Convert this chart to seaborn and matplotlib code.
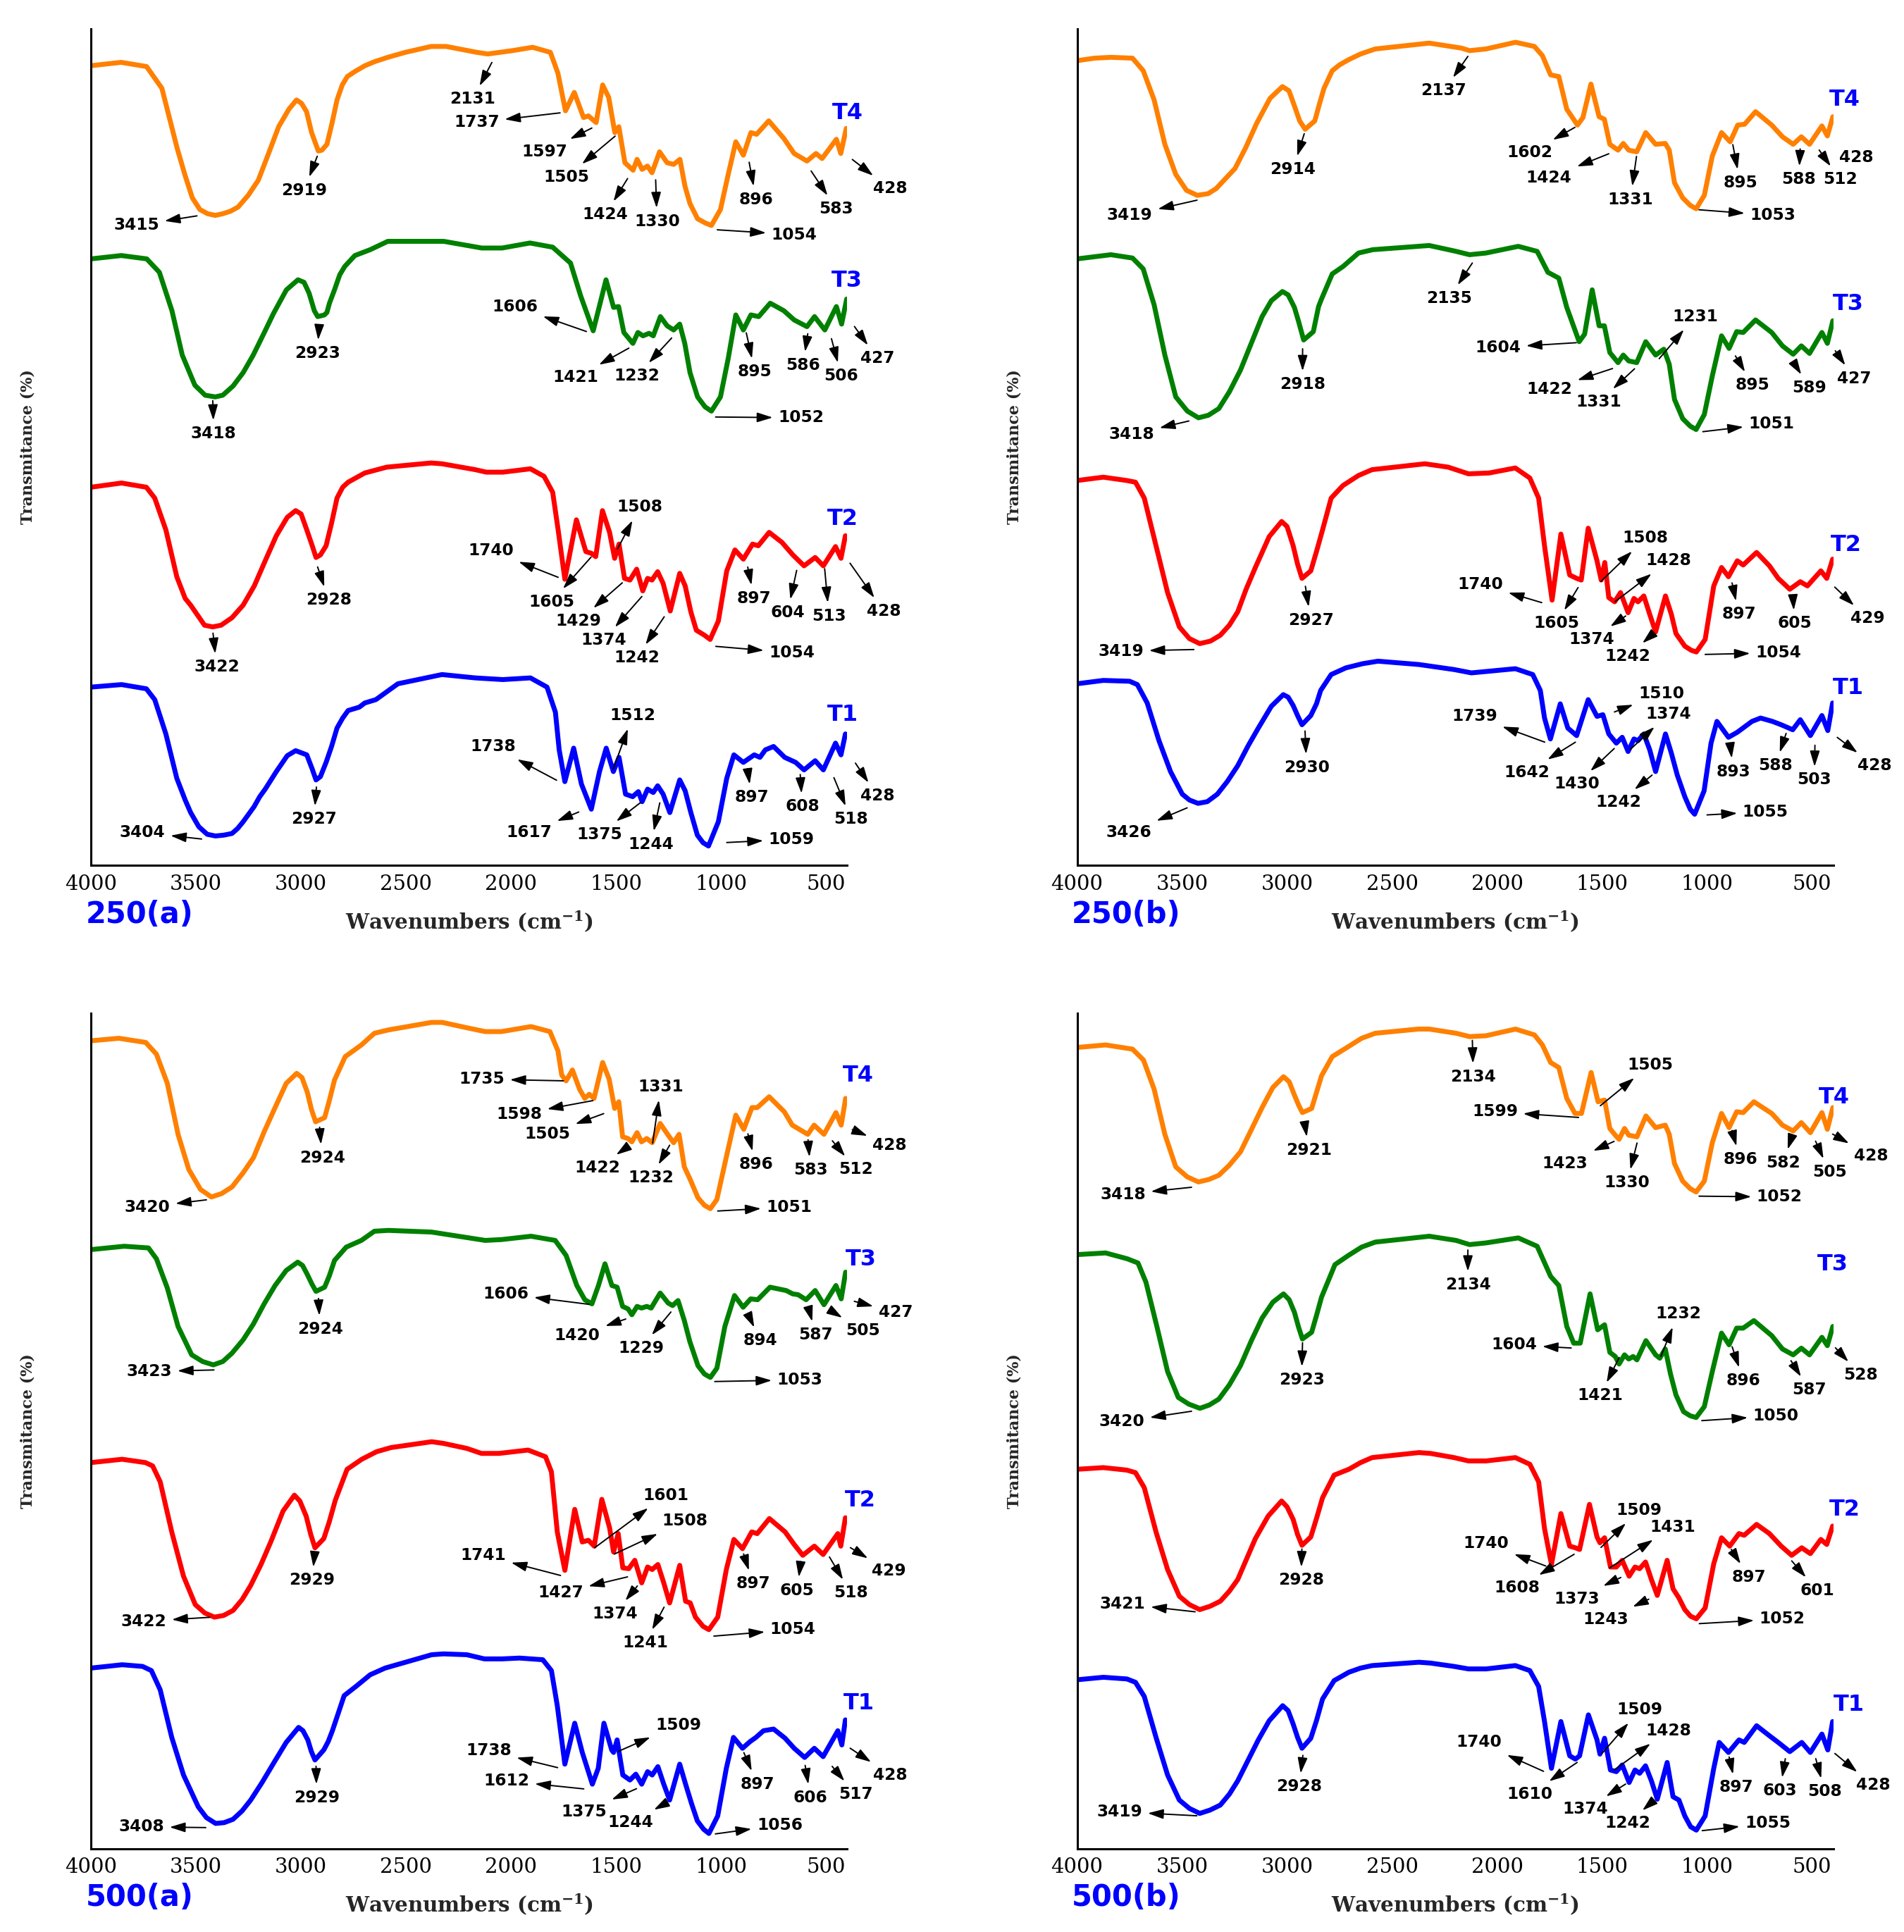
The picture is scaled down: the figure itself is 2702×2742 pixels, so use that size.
import numpy as np
import matplotlib
matplotlib.use("Agg")
import matplotlib.pyplot as plt
from matplotlib.ticker import MultipleLocator
import seaborn as sns

# ---------------------------------------------------------------------------
# FTIR spectra: (wavenumber cm-1, relative transmittance)
# transmittance is on a 0-100 stacked scale, curves are offset by sample
# ---------------------------------------------------------------------------

# ---- 250 (a) ----
A250_T4 = [(4000, 95.6), (3856, 96.0), (3735, 95.5), (3662, 92.9), (3590, 85.8), (3553, 82.6), (3517, 79.8),
           (3481, 78.4), (3444, 77.9), (3408, 77.7), (3372, 77.9), (3335, 78.2), (3299, 78.7), (3251, 80.1),
           (3203, 81.9), (3154, 85.1), (3106, 88.3), (3057, 90.4), (3021, 91.5), (2997, 91.1), (2973, 90.1),
           (2949, 87.6), (2917, 85.4), (2900, 85.5), (2876, 86.2), (2852, 88.7), (2828, 91.5), (2803, 93.3),
           (2779, 94.3), (2743, 94.9), (2695, 95.6), (2647, 96.1), (2586, 96.6), (2502, 97.2), (2380, 97.9),
           (2308, 97.9), (2163, 97.2), (2110, 97.0), (1993, 97.4), (1897, 97.8), (1812, 97.2), (1776, 94.7),
           (1740, 90.2), (1698, 92.4), (1654, 89.4), (1631, 89.6), (1594, 88.8), (1563, 93.3), (1534, 91.8),
           (1505, 87.6), (1486, 88.3), (1457, 84.0), (1418, 83.1), (1399, 84.4), (1375, 83.2), (1350, 83.6),
           (1328, 82.8), (1292, 85.3), (1256, 84.0), (1225, 83.8), (1195, 84.4), (1171, 81.2), (1147, 79.1),
           (1111, 77.3), (1075, 76.8), (1045, 76.5), (1002, 78.4), (965, 82.6), (929, 86.5), (893, 84.9),
           (857, 87.6), (830, 87.4), (772, 89.0), (700, 86.9), (651, 85.1), (590, 84.2), (547, 85.1),
           (518, 84.5), (450, 86.8), (429, 85.1), (403, 88.1)]
A250_T3 = [(4000, 72.5), (3855, 72.9), (3734, 72.5), (3674, 70.9), (3614, 66.3), (3565, 61.0), (3505, 57.4),
           (3456, 56.2), (3408, 56.0), (3372, 56.2), (3323, 57.3), (3275, 58.9), (3227, 61.0), (3178, 63.5),
           (3130, 66.0), (3069, 68.8), (3014, 70.0), (2985, 69.7), (2961, 68.4), (2936, 66.3), (2920, 65.6),
           (2888, 65.8), (2876, 66.1), (2864, 67.2), (2840, 68.8), (2815, 70.6), (2791, 71.6), (2743, 72.9),
           (2670, 73.6), (2586, 74.6), (2405, 74.6), (2320, 74.6), (2139, 73.8), (2042, 73.8), (1909, 74.4),
           (1801, 73.9), (1716, 72.0), (1668, 68.1), (1608, 63.9), (1547, 70.0), (1511, 66.7), (1487, 66.8),
           (1462, 63.7), (1419, 62.4), (1395, 63.7), (1371, 63.3), (1342, 63.6), (1322, 63.3), (1288, 65.6),
           (1256, 64.5), (1225, 64.0), (1196, 64.7), (1172, 62.4), (1147, 58.9), (1111, 56.0), (1075, 54.8),
           (1045, 54.3), (1002, 56.0), (965, 60.6), (929, 65.8), (893, 64.0), (857, 65.8), (820, 65.6),
           (765, 67.2), (700, 66.3), (651, 65.2), (590, 64.4), (554, 65.6), (505, 64.0), (450, 66.8),
           (425, 64.7), (401, 67.7)]
A250_T2 = [(4000, 45.2), (3854, 45.7), (3736, 45.2), (3696, 43.9), (3643, 40.1), (3591, 34.5), (3551, 31.9),
           (3525, 31.1), (3459, 28.7), (3420, 28.5), (3380, 28.7), (3328, 29.6), (3275, 31.1), (3222, 33.4),
           (3170, 36.4), (3117, 39.4), (3065, 41.6), (3025, 42.4), (2999, 42.0), (2972, 40.1), (2946, 38.2),
           (2928, 36.8), (2907, 37.1), (2880, 38.2), (2854, 40.9), (2828, 43.9), (2801, 45.2), (2775, 45.8),
           (2696, 46.9), (2591, 47.6), (2380, 48.1), (2328, 48.0), (2170, 47.3), (2117, 47.0), (2038, 47.0),
           (1907, 47.4), (1842, 46.5), (1801, 44.6), (1775, 40.1), (1743, 34.2), (1688, 41.3), (1643, 37.5),
           (1617, 37.3), (1596, 36.9), (1564, 42.4), (1530, 39.8), (1506, 36.7), (1485, 38.4), (1459, 34.3),
           (1433, 34.1), (1401, 35.4), (1372, 32.8), (1349, 34.3), (1328, 34.1), (1301, 35.1), (1275, 33.7),
           (1241, 30.4), (1196, 34.9), (1170, 33.4), (1143, 30.3), (1117, 28.1), (1078, 27.5), (1051, 27.0),
           (1012, 29.2), (972, 35.2), (933, 37.7), (893, 36.6), (849, 38.4), (822, 38.2), (770, 39.8),
           (709, 38.6), (657, 37.1), (604, 35.8), (551, 36.8), (512, 35.8), (454, 38.1), (428, 36.7), (407, 39.4)]
A250_T1 = [(4000, 21.3), (3854, 21.6), (3736, 21.1), (3696, 19.8), (3643, 15.7), (3591, 10.4), (3551, 7.8),
           (3525, 6.3), (3486, 4.6), (3446, 3.7), (3407, 3.5), (3367, 3.6), (3328, 3.8), (3301, 4.4),
           (3275, 5.2), (3223, 7.0), (3196, 8.2), (3170, 9.1), (3117, 11.2), (3065, 13.1), (3025, 13.7),
           (2972, 13.2), (2946, 11.5), (2928, 10.2), (2907, 10.6), (2880, 12.3), (2854, 14.2), (2828, 16.4),
           (2801, 17.6), (2775, 18.5), (2722, 18.9), (2696, 19.4), (2643, 19.8), (2538, 21.7), (2328, 22.8),
           (2170, 22.4), (2038, 22.2), (1907, 22.4), (1828, 21.3), (1788, 18.3), (1770, 13.8), (1743, 10.0),
           (1701, 14.0), (1664, 9.7), (1617, 6.7), (1578, 11.2), (1546, 14.0), (1512, 11.2), (1485, 12.9),
           (1454, 8.5), (1420, 8.2), (1393, 8.8), (1375, 7.6), (1349, 9.1), (1322, 8.7), (1301, 9.5),
           (1275, 8.5), (1243, 6.3), (1196, 10.2), (1170, 8.9), (1143, 6.3), (1112, 3.6), (1085, 2.7),
           (1059, 2.3), (1012, 5.2), (972, 10.4), (938, 13.2), (893, 12.3), (841, 13.2), (814, 12.9),
           (788, 13.8), (749, 14.2), (696, 12.9), (644, 12.3), (604, 11.4), (551, 12.5), (512, 11.4),
           (454, 14.6), (428, 13.2), (407, 15.7)]

# ---- 250 (b) ----
B250_T4 = [(4000, 96.2), (3917, 96.5), (3839, 96.6), (3736, 96.5), (3685, 95.0), (3633, 91.5), (3582, 86.2),
           (3530, 82.6), (3479, 80.7), (3428, 80.1), (3376, 80.3), (3338, 80.9), (3248, 83.3), (3197, 85.8),
           (3145, 88.7), (3081, 91.7), (3022, 93.1), (2991, 92.6), (2965, 90.8), (2940, 89.0), (2914, 88.0),
           (2868, 89.0), (2845, 91.1), (2824, 92.9), (2785, 95.0), (2750, 95.7), (2708, 96.3), (2650, 97.0),
           (2580, 97.6), (2323, 98.3), (2169, 97.7), (2131, 97.4), (2053, 97.6), (1912, 98.4), (1822, 97.9),
           (1784, 96.8), (1745, 94.5), (1706, 94.3), (1668, 90.4), (1617, 88.5), (1591, 89.4), (1553, 93.4),
           (1514, 89.5), (1489, 89.2), (1463, 86.2), (1424, 85.5), (1399, 86.3), (1373, 85.5), (1335, 85.3),
           (1292, 87.6), (1245, 86.2), (1199, 86.3), (1180, 85.5), (1155, 81.6), (1116, 79.8), (1080, 78.9),
           (1052, 78.5), (1013, 80.1), (975, 84.8), (931, 87.6), (890, 86.5), (854, 88.5), (821, 88.6),
           (769, 90.1), (692, 88.5), (641, 87.1), (590, 86.2), (551, 87.1), (512, 86.2), (453, 88.4),
           (427, 87.2), (401, 89.5)]
B250_T3 = [(4000, 72.5), (3839, 73.0), (3736, 72.6), (3685, 71.3), (3633, 67.0), (3582, 61.0), (3530, 56.0),
           (3475, 54.3), (3422, 53.5), (3375, 53.8), (3325, 54.6), (3275, 56.6), (3222, 59.2), (3119, 65.6),
           (3075, 67.5), (3022, 68.6), (2995, 68.2), (2965, 66.7), (2945, 65.0), (2921, 62.8), (2875, 63.8),
           (2850, 66.8), (2836, 67.7), (2785, 70.7), (2733, 71.6), (2660, 73.2), (2592, 73.6), (2323, 74.1),
           (2195, 73.4), (2131, 73.0), (2053, 73.2), (1899, 74.0), (1809, 73.4), (1758, 70.9), (1706, 70.2),
           (1668, 66.7), (1609, 62.6), (1583, 63.5), (1547, 68.8), (1514, 64.5), (1489, 64.5), (1463, 61.3),
           (1424, 60.1), (1399, 61.0), (1373, 60.3), (1335, 60.1), (1292, 62.6), (1245, 61.0), (1206, 61.7),
           (1180, 59.9), (1155, 55.7), (1116, 53.4), (1080, 52.5), (1052, 52.1), (1013, 53.9), (975, 58.5),
           (931, 63.3), (895, 61.8), (859, 63.8), (828, 63.7), (769, 65.2), (692, 63.7), (641, 62.1),
           (590, 61.1), (551, 62.1), (512, 61.2), (453, 63.7), (427, 62.4), (401, 65.1)]
B250_T2 = [(4000, 46.0), (3875, 46.4), (3763, 46.0), (3722, 45.8), (3680, 43.9), (3624, 38.2), (3569, 32.6),
           (3513, 28.5), (3465, 27.1), (3416, 26.5), (3365, 26.8), (3318, 27.5), (3275, 28.7), (3235, 30.3),
           (3195, 33.0), (3151, 35.6), (3085, 39.3), (3026, 41.1), (3000, 40.5), (2971, 38.2), (2950, 36.0),
           (2929, 34.3), (2887, 35.2), (2860, 37.5), (2831, 40.1), (2790, 43.9), (2734, 45.4), (2660, 46.6),
           (2595, 47.3), (2344, 48.0), (2233, 47.6), (2136, 46.8), (2038, 46.9), (1913, 47.5), (1844, 46.3),
           (1802, 43.9), (1774, 38.2), (1738, 31.7), (1696, 39.6), (1654, 34.7), (1621, 34.3), (1599, 34.1),
           (1566, 40.3), (1524, 36.4), (1504, 34.1), (1487, 36.2), (1468, 32.0), (1440, 31.5), (1412, 32.6),
           (1376, 30.2), (1348, 31.9), (1329, 31.5), (1301, 32.2), (1273, 30.0), (1245, 27.9), (1198, 32.2),
           (1170, 30.0), (1148, 27.7), (1106, 26.2), (1075, 25.7), (1051, 25.5), (1009, 27.0), (968, 33.4),
           (931, 35.6), (898, 34.5), (856, 36.4), (828, 35.9), (764, 37.4), (703, 35.8), (661, 34.3),
           (606, 33.0), (556, 33.9), (522, 33.4), (458, 35.2), (430, 34.3), (402, 36.6)]
B250_T1 = [(4000, 21.7), (3875, 22.1), (3750, 22.0), (3713, 21.6), (3666, 19.4), (3610, 14.9), (3555, 11.2),
           (3499, 8.5), (3465, 7.8), (3424, 7.4), (3380, 7.6), (3332, 8.5), (3285, 10.0), (3235, 11.9),
           (3185, 14.3), (3137, 16.4), (3075, 19.0), (3018, 20.4), (2995, 20.1), (2971, 19.1), (2950, 17.9),
           (2929, 16.8), (2887, 17.9), (2860, 19.3), (2840, 20.9), (2790, 22.8), (2720, 23.6), (2640, 24.1),
           (2567, 24.4), (2372, 24.0), (2205, 23.4), (2122, 23.0), (2038, 23.2), (1913, 23.5), (1830, 22.8),
           (1794, 20.9), (1774, 17.6), (1746, 15.1), (1699, 19.3), (1663, 16.4), (1621, 15.5), (1566, 19.8),
           (1524, 17.8), (1496, 18.0), (1468, 15.7), (1432, 14.6), (1404, 15.3), (1376, 13.6), (1348, 15.1),
           (1329, 14.9), (1301, 15.7), (1273, 13.8), (1245, 11.2), (1198, 15.7), (1170, 13.4), (1142, 10.8),
           (1106, 8.2), (1080, 6.7), (1059, 6.1), (1014, 8.9), (981, 14.6), (953, 17.2), (898, 15.3),
           (856, 15.9), (786, 17.2), (745, 17.6), (689, 17.2), (647, 16.8), (592, 16.2), (556, 17.4),
           (508, 15.5), (453, 17.9), (425, 16.1), (402, 19.4)]

# ---- 500 (a) ----
A500_T4 = [(4000, 96.7), (3867, 97.0), (3739, 96.5), (3688, 95.1), (3636, 91.6), (3585, 85.5), (3534, 81.3),
           (3478, 78.9), (3426, 78.0), (3378, 78.4), (3328, 79.2), (3275, 80.9), (3226, 82.7), (3175, 85.8),
           (3123, 88.7), (3070, 91.6), (3020, 92.8), (2995, 92.3), (2969, 90.5), (2950, 88.5), (2930, 87.0),
           (2887, 87.5), (2865, 89.5), (2840, 92.0), (2789, 94.8), (2712, 96.2), (2650, 97.6), (2583, 98.0),
           (2378, 98.9), (2327, 98.9), (2199, 98.2), (2122, 97.8), (2045, 97.8), (1904, 98.4), (1814, 97.8),
           (1776, 95.5), (1758, 92.6), (1737, 91.9), (1707, 93.2), (1673, 90.9), (1648, 89.8), (1627, 90.3),
           (1604, 89.8), (1563, 94.1), (1532, 92.1), (1506, 88.6), (1486, 89.4), (1468, 85.2), (1442, 85.0),
           (1424, 84.6), (1399, 85.7), (1378, 84.6), (1353, 85.0), (1327, 84.5), (1289, 86.8), (1251, 85.4),
           (1225, 84.5), (1199, 85.5), (1174, 81.6), (1148, 80.2), (1109, 77.9), (1078, 77.0), (1050, 76.6),
           (1019, 77.7), (981, 82.0), (929, 87.8), (891, 86.1), (852, 88.7), (827, 88.7), (770, 90.0),
           (698, 88.2), (660, 86.6), (586, 85.5), (556, 86.6), (509, 85.5), (452, 88.1), (427, 86.6), (406, 89.8)]
A500_T3 = [(4000, 71.7), (3842, 72.1), (3726, 71.9), (3688, 70.6), (3636, 67.1), (3585, 62.5), (3520, 59.1),
           (3468, 58.3), (3417, 57.9), (3372, 58.3), (3328, 59.3), (3275, 60.9), (3226, 62.8), (3175, 65.2),
           (3123, 67.4), (3070, 69.2), (3015, 70.2), (2992, 69.8), (2969, 68.7), (2948, 67.6), (2928, 66.7),
           (2887, 67.2), (2864, 68.6), (2840, 70.4), (2784, 72.0), (2712, 72.8), (2650, 73.9), (2583, 74.0),
           (2378, 73.8), (2301, 73.5), (2122, 72.8), (2045, 72.9), (1904, 73.3), (1789, 72.8), (1737, 71.0),
           (1686, 67.4), (1648, 65.7), (1614, 65.2), (1583, 67.4), (1552, 70.0), (1519, 67.4), (1494, 67.2),
           (1468, 64.9), (1442, 64.6), (1424, 63.9), (1399, 64.9), (1378, 64.7), (1353, 64.9), (1332, 64.7),
           (1289, 66.5), (1251, 65.3), (1230, 65.0), (1204, 65.6), (1174, 63.2), (1148, 60.7), (1109, 57.8),
           (1078, 56.8), (1050, 56.4), (1019, 57.5), (981, 62.5), (935, 66.2), (894, 64.8), (858, 65.8),
           (825, 65.7), (766, 67.2), (689, 66.8), (658, 66.4), (632, 66.3), (594, 65.7), (551, 66.8),
           (509, 65.1), (452, 67.4), (427, 65.8), (406, 69.0)]
A500_T2 = [(4000, 46.2), (3851, 46.6), (3740, 46.2), (3706, 45.8), (3670, 43.9), (3615, 37.9), (3559, 32.6),
           (3503, 29.2), (3458, 28.2), (3412, 27.7), (3368, 27.9), (3323, 28.5), (3280, 29.8), (3239, 31.5),
           (3190, 34.0), (3142, 36.8), (3085, 40.4), (3031, 42.3), (3005, 41.6), (2975, 39.8), (2953, 37.6),
           (2933, 36.0), (2891, 37.1), (2865, 39.1), (2836, 41.7), (2780, 45.4), (2710, 46.6), (2640, 47.5),
           (2571, 48.0), (2377, 48.7), (2321, 48.5), (2210, 47.9), (2140, 47.3), (2057, 47.3), (1918, 47.7),
           (1835, 46.9), (1807, 45.1), (1779, 37.9), (1743, 33.3), (1696, 40.6), (1660, 36.7), (1631, 36.9),
           (1603, 36.2), (1567, 41.8), (1530, 38.4), (1511, 35.5), (1489, 37.7), (1467, 33.6), (1439, 33.5),
           (1410, 34.5), (1377, 31.8), (1349, 33.7), (1327, 33.4), (1300, 34.0), (1272, 31.8), (1244, 29.4),
           (1196, 33.9), (1168, 29.6), (1146, 29.4), (1121, 27.7), (1085, 26.6), (1057, 26.2), (1015, 27.7),
           (974, 33.4), (938, 37.0), (897, 35.9), (853, 37.9), (827, 37.7), (769, 39.5), (694, 37.9),
           (651, 36.4), (610, 35.1), (555, 36.2), (513, 35.2), (443, 37.7), (429, 36.2), (407, 39.6)]
A500_T1 = [(4000, 21.6), (3851, 22.0), (3754, 21.8), (3712, 21.3), (3670, 19.0), (3615, 13.3), (3559, 8.8),
           (3489, 5.0), (3450, 3.7), (3406, 3.0), (3365, 3.1), (3323, 3.5), (3280, 4.5), (3239, 5.8),
           (3185, 7.9), (3128, 10.3), (3070, 12.7), (3011, 14.5), (2990, 14.1), (2967, 13.0), (2950, 11.6),
           (2933, 10.6), (2891, 11.8), (2870, 12.8), (2850, 14.1), (2794, 18.3), (2738, 19.4), (2670, 20.8),
           (2599, 21.6), (2377, 23.2), (2321, 23.3), (2210, 23.2), (2126, 22.7), (2042, 22.7), (1959, 22.8),
           (1848, 22.6), (1807, 21.3), (1779, 17.1), (1743, 10.1), (1696, 15.0), (1660, 11.5), (1612, 7.7),
           (1584, 9.6), (1557, 15.0), (1520, 11.8), (1511, 11.5), (1494, 13.0), (1467, 8.8), (1433, 8.2),
           (1405, 8.9), (1377, 7.7), (1349, 9.2), (1327, 8.8), (1300, 9.8), (1272, 7.7), (1244, 5.8),
           (1196, 10.1), (1168, 7.7), (1140, 5.4), (1112, 3.3), (1082, 2.3), (1057, 1.8), (1015, 3.9),
           (974, 9.6), (940, 13.3), (897, 12.0), (861, 12.8), (833, 13.3), (797, 14.1), (749, 14.3),
           (694, 13.2), (651, 12.0), (601, 10.9), (555, 12.0), (513, 11.0), (443, 14.1), (424, 12.4), (407, 15.4)]

# ---- 500 (b) ----
B500_T4 = [(4000, 95.9), (3864, 96.2), (3736, 95.7), (3684, 94.4), (3633, 90.9), (3582, 85.5), (3530, 81.6),
           (3475, 80.4), (3422, 79.8), (3372, 80.1), (3325, 80.6), (3275, 81.8), (3222, 83.4), (3175, 85.8),
           (3119, 88.7), (3068, 91.1), (3017, 92.4), (2990, 91.8), (2965, 90.2), (2945, 89.0), (2927, 88.1),
           (2883, 88.6), (2860, 90.5), (2836, 92.5), (2785, 94.8), (2708, 96.0), (2645, 97.0), (2580, 97.6),
           (2375, 98.1), (2323, 98.1), (2195, 97.6), (2131, 97.2), (2053, 97.3), (1912, 98.1), (1822, 97.4),
           (1784, 96.2), (1745, 94.1), (1706, 93.5), (1668, 89.8), (1629, 88.0), (1598, 88.0), (1552, 92.9),
           (1519, 89.4), (1488, 89.6), (1463, 86.2), (1437, 85.4), (1419, 84.9), (1393, 86.2), (1373, 85.4),
           (1334, 85.2), (1291, 87.7), (1245, 86.3), (1199, 86.6), (1180, 85.5), (1155, 82.0), (1116, 79.9),
           (1080, 79.0), (1052, 78.6), (1013, 79.9), (975, 84.5), (931, 88.0), (895, 86.3), (859, 88.2),
           (828, 88.1), (777, 89.4), (692, 88.0), (641, 86.6), (590, 85.9), (551, 86.9), (508, 85.7),
           (453, 88.1), (427, 86.1), (401, 88.7)]
B500_T3 = [(4000, 71.1), (3864, 71.3), (3761, 70.6), (3710, 70.1), (3672, 67.8), (3620, 62.5), (3569, 57.1),
           (3518, 54.0), (3468, 53.2), (3415, 52.7), (3370, 53.1), (3325, 53.8), (3275, 55.5), (3222, 57.8),
           (3170, 60.8), (3119, 63.5), (3068, 65.4), (3017, 66.4), (2990, 65.7), (2965, 64.2), (2945, 62.4),
           (2927, 61.0), (2883, 61.8), (2860, 63.8), (2836, 66.0), (2772, 69.9), (2708, 71.0), (2645, 72.0),
           (2580, 72.6), (2323, 73.3), (2195, 72.8), (2131, 72.3), (2053, 72.5), (1899, 73.1), (1809, 72.1),
           (1745, 68.5), (1706, 67.4), (1668, 62.5), (1635, 60.5), (1604, 60.5), (1557, 66.4), (1521, 62.1),
           (1488, 62.7), (1463, 59.4), (1437, 58.9), (1419, 58.0), (1393, 59.1), (1373, 58.6), (1352, 58.9),
           (1334, 58.5), (1291, 60.8), (1245, 59.1), (1225, 58.7), (1199, 59.8), (1174, 56.8), (1148, 54.3),
           (1112, 52.3), (1080, 51.8), (1052, 51.6), (1013, 52.9), (975, 57.1), (931, 61.7), (895, 60.3),
           (859, 62.3), (828, 62.3), (777, 63.2), (692, 61.4), (641, 59.8), (590, 59.1), (551, 59.9),
           (512, 59.1), (453, 61.2), (427, 60.2), (401, 62.5)]
B500_T2 = [(4000, 45.4), (3875, 45.6), (3763, 45.3), (3722, 45.0), (3680, 43.2), (3624, 37.9), (3569, 33.4),
           (3513, 30.2), (3465, 29.2), (3416, 28.6), (3367, 29.0), (3318, 29.6), (3275, 30.8), (3235, 32.2),
           (3151, 37.1), (3090, 39.8), (3026, 41.6), (3000, 40.9), (2971, 39.4), (2950, 37.6), (2929, 36.3),
           (2887, 37.3), (2860, 39.5), (2831, 42.0), (2776, 44.7), (2706, 45.4), (2650, 46.2), (2595, 46.8),
           (2372, 47.4), (2317, 47.3), (2205, 46.8), (2136, 46.4), (2052, 46.4), (1913, 46.8), (1844, 46.0),
           (1802, 43.9), (1774, 38.3), (1741, 34.0), (1696, 40.1), (1654, 36.2), (1627, 36.0), (1607, 35.8),
           (1560, 41.2), (1524, 37.3), (1510, 36.6), (1488, 37.2), (1460, 33.7), (1432, 33.7), (1404, 34.5),
           (1371, 32.6), (1343, 33.7), (1321, 33.5), (1293, 34.3), (1265, 32.2), (1237, 30.3), (1190, 34.5),
           (1162, 31.1), (1134, 30.0), (1106, 28.6), (1078, 27.8), (1051, 27.5), (1009, 28.8), (968, 34.1),
           (931, 37.2), (892, 36.2), (848, 37.7), (823, 37.5), (764, 38.8), (703, 37.7), (647, 36.2),
           (597, 35.1), (549, 36.0), (508, 35.3), (458, 37.0), (430, 36.4), (402, 38.6)]
B500_T1 = [(4000, 20.2), (3875, 20.5), (3763, 20.3), (3722, 19.9), (3680, 18.2), (3624, 13.3), (3569, 8.8),
           (3513, 5.8), (3465, 4.8), (3416, 4.2), (3367, 4.6), (3318, 5.2), (3275, 6.5), (3235, 8.1),
           (3137, 13.0), (3085, 15.3), (3021, 17.1), (2995, 16.5), (2971, 14.9), (2950, 13.3), (2929, 12.0),
           (2887, 13.2), (2860, 15.3), (2831, 17.9), (2776, 20.1), (2706, 21.1), (2650, 21.6), (2595, 21.9),
           (2372, 22.3), (2317, 22.2), (2205, 21.8), (2136, 21.5), (2052, 21.5), (1913, 21.9), (1844, 21.3),
           (1802, 19.4), (1774, 15.2), (1741, 9.6), (1696, 15.2), (1654, 11.1), (1627, 10.7), (1607, 11.1),
           (1565, 16.0), (1524, 13.0), (1510, 11.3), (1488, 13.2), (1460, 9.4), (1432, 9.2), (1404, 10.0),
           (1371, 7.9), (1343, 9.4), (1321, 9.0), (1293, 9.9), (1265, 8.1), (1237, 5.9), (1190, 10.3),
           (1162, 6.2), (1134, 5.8), (1106, 3.9), (1078, 2.6), (1051, 2.2), (1009, 3.9), (968, 9.6),
           (942, 12.7), (898, 11.5), (848, 13.0), (823, 12.7), (764, 14.7), (703, 13.5), (661, 12.7),
           (606, 11.6), (549, 12.7), (508, 11.5), (453, 13.7), (425, 11.8), (402, 15.2)]

# ---------------------------------------------------------------------------
# peak labels: (label, arrow start wn, arrow start T, label wn, label T)
# ---------------------------------------------------------------------------
PK_A250_T4 = [("3415", 3481, 77.7, 3783, 76.5), ("2919", 2917, 85.1, 2985, 80.7), ("2131", 2084, 96.3, 2182, 91.6),
              ("1737", 1752, 90.0, 2163, 88.8), ("1597", 1602, 88.3, 1841, 85.3), ("1505", 1493, 87.4, 1735, 82.3),
              ("1424", 1437, 82.4, 1550, 77.8), ("1330", 1311, 82.3, 1304, 77.0), ("1054", 1031, 76.0, 651, 75.4),
              ("896", 868, 84.4, 832, 79.6), ("583", 578, 83.3, 450, 78.5), ("428", 385, 84.6, 195, 80.9)]
PK_A250_T3 = [("3418", 3420, 55.9, 3415, 51.6), ("2923", 2912, 64.9, 2922, 61.2), ("1606", 1627, 63.7, 1981, 66.8),
              ("1421", 1426, 62.0, 1691, 58.3), ("1232", 1225, 63.3, 1401, 58.5), ("1052", 1039, 53.6, 619, 53.5),
              ("895", 882, 64.0, 838, 59.0), ("586", 584, 63.9, 609, 59.8), ("506", 477, 63.3, 426, 58.5),
              ("427", 372, 64.7, 255, 60.6)]
PK_A250_T2 = [("3422", 3420, 28.1, 3401, 23.7), ("2928", 2925, 36.0, 2867, 31.7), ("1740", 1762, 34.3, 2096, 37.6),
              ("1605", 1609, 37.1, 1807, 31.5), ("1508", 1499, 37.5, 1388, 42.8), ("1429", 1459, 34.0, 1678, 29.2),
              ("1374", 1367, 32.4, 1559, 26.9), ("1242", 1262, 30.0, 1401, 24.8), ("1054", 1038, 26.2, 662, 25.4),
              ("897", 875, 36.0, 841, 31.9), ("604", 636, 35.6, 683, 30.2), ("513", 507, 35.8, 485, 29.8),
              ("428", 393, 36.4, 225, 30.4)]
PK_A250_T1 = [("3404", 3459, 3.1, 3754, 3.9), ("2927", 2925, 9.7, 2938, 5.5), ("1738", 1770, 10.0, 2085, 14.2),
              ("1617", 1664, 6.5, 1914, 3.9), ("1512", 1517, 11.2, 1420, 17.9), ("1375", 1372, 7.7, 1578, 3.7),
              ("1244", 1288, 7.8, 1333, 2.5), ("1059", 986, 2.7, 664, 3.1), ("897", 875, 11.9, 854, 8.1),
              ("608", 623, 11.2, 612, 7.0), ("518", 467, 10.8, 380, 5.5), ("428", 367, 12.5, 255, 8.3)]

PK_B250_T4 = [("3419", 3415, 79.6, 3749, 77.7), ("2914", 2914, 87.8, 2972, 83.2), ("2137", 2131, 97.0, 2254, 92.6),
              ("1602", 1617, 88.4, 1843, 85.2), ("1424", 1455, 85.2, 1753, 82.2), ("1331", 1334, 85.1, 1365, 79.6),
              ("1053", 1052, 78.4, 687, 77.7), ("895", 880, 86.5, 842, 81.6), ("588", 556, 86.0, 563, 82.0),
              ("512", 474, 85.8, 367, 82.0), ("428", None, None, 289, 84.6)]
PK_B250_T3 = [("3418", 3454, 53.2, 3741, 51.5), ("2918", 2926, 62.1, 2926, 57.5), ("2135", 2110, 72.3, 2229, 67.8),
              ("1604", 1609, 62.5, 1995, 61.9), ("1422", 1437, 59.5, 1751, 56.9), ("1331", 1335, 59.6, 1515, 55.4),
              ("1231", 1237, 60.3, 1057, 65.6), ("1051", 1034, 51.8, 693, 52.8), ("895", 872, 61.2, 782, 57.4),
              ("589", 597, 60.5, 512, 57.1), ("427", 397, 61.8, 299, 58.2)]
PK_B250_T2 = [("3419", 3430, 25.8, 3791, 25.6), ("2927", 2915, 33.7, 2887, 29.3), ("1740", 1774, 31.3, 2080, 33.6),
              ("1605", 1607, 33.5, 1718, 28.9), ("1508", 1515, 33.7, 1293, 39.1), ("1428", 1449, 31.3, 1184, 36.4),
              ("1374", 1376, 30.0, 1551, 27.0), ("1242", 1251, 27.8, 1379, 25.0), ("1054", 1023, 25.2, 661, 25.4),
              ("897", 884, 34.1, 848, 30.0), ("605", 592, 32.6, 583, 28.9), ("429", 402, 33.5, 235, 29.5)]
PK_B250_T1 = [("3426", 3463, 7.0, 3755, 3.9), ("2930", 2915, 16.4, 2907, 11.7), ("1739", 1760, 14.6, 2108, 17.8),
              ("1642", 1615, 14.9, 1858, 11.1), ("1510", 1454, 18.2, 1218, 20.5), ("1374", 1376, 13.6, 1184, 18.1),
              ("1430", 1432, 14.2, 1621, 9.7), ("1242", 1251, 11.0, 1421, 7.5), ("1055", 1014, 6.0, 722, 6.4),
              ("893", 892, 14.9, 875, 11.2), ("588", 619, 16.1, 675, 11.9), ("503", 486, 14.7, 489, 10.2),
              ("428", 391, 15.5, 202, 11.9)]

PK_A500_T4 = [("3420", 3436, 77.7, 3731, 76.8), ("2924", 2912, 86.7, 2899, 82.7), ("1735", 1736, 91.9, 2138, 92.1),
              ("1598", 1596, 89.6, 1961, 87.9), ("1505", 1545, 88.1, 1827, 85.5), ("1331", 1327, 84.1, 1286, 91.2),
              ("1422", 1433, 84.2, 1587, 81.5), ("1232", 1237, 84.5, 1333, 80.3), ("1051", 1029, 76.3, 675, 76.8),
              ("896", 875, 85.9, 832, 81.9), ("583", 586, 85.2, 573, 81.2), ("512", 478, 85.0, 357, 81.3),
              ("428", 387, 86.2, 196, 84.2)]
PK_A500_T3 = [("3423", 3400, 57.3, 3721, 57.1), ("2924", 2917, 66.2, 2909, 62.2), ("1606", 1613, 65.1, 2024, 66.4),
              ("1420", 1440, 63.5, 1684, 61.4), ("1229", 1229, 64.5, 1381, 59.9), ("1053", 1043, 55.9, 624, 56.1),
              ("894", 875, 64.2, 811, 60.8), ("587", 586, 65.0, 547, 61.5), ("505", 483, 64.5, 323, 62.0),
              ("427", 378, 65.6, 168, 64.2)]
PK_A500_T2 = [("3422", 3420, 27.7, 3748, 27.2), ("2929", 2933, 35.7, 2947, 32.1), ("1741", 1750, 32.6, 2132, 35.1),
              ("1601", 1612, 35.8, 1263, 42.3), ("1508", 1520, 35.1, 1171, 39.2), ("1427", 1431, 32.6, 1764, 30.6),
              ("1374", 1389, 31.7, 1506, 28.1), ("1241", 1264, 29.2, 1361, 24.6), ("1054", 1047, 25.4, 657, 26.2),
              ("897", 896, 35.6, 846, 31.7), ("605", 618, 34.7, 637, 30.9), ("518", 490, 35.2, 381, 30.6),
              ("429", 395, 36.2, 200, 33.2)]
PK_A500_T1 = [("3408", 3439, 2.5, 3759, 2.6), ("2929", 2928, 10.2, 2925, 6.1), ("1738", 1764, 9.6, 2106, 11.7),
              ("1612", 1639, 7.1, 2020, 8.1), ("1509", 1500, 11.5, 1202, 14.8), ("1375", 1389, 7.3, 1653, 4.4),
              ("1244", 1264, 5.4, 1430, 3.1), ("1056", 1040, 1.7, 720, 2.8), ("897", 896, 11.8, 826, 7.7),
              ("606", 601, 10.3, 573, 6.1), ("517", 479, 10.1, 359, 6.5), ("428", 396, 12.2, 192, 8.8)]

PK_B500_T4 = [("3418", 3441, 79.2, 3782, 78.3), ("2921", 2919, 87.3, 2896, 83.6), ("2134", 2118, 97.1, 2113, 92.4),
              ("1599", 1598, 87.5, 2010, 88.2), ("1505", 1519, 88.7, 1271, 93.8), ("1423", 1430, 84.8, 1676, 82.0),
              ("1330", 1330, 84.8, 1381, 79.7), ("1052", 1052, 78.1, 655, 78.0), ("896", 885, 86.3, 842, 82.5),
              ("582", 590, 85.7, 637, 82.1), ("505", 489, 85.0, 417, 81.0), ("428", 414, 85.7, 218, 82.9)]
PK_B500_T3 = [("3420", 3441, 52.4, 3787, 51.1), ("2923", 2926, 60.9, 2931, 56.1), ("2134", 2139, 72.0, 2139, 67.5),
              ("1604", 1633, 59.9, 1918, 60.3), ("1421", 1412, 59.1, 1510, 54.2), ("1232", 1225, 58.6, 1138, 64.0),
              ("1050", 1039, 51.2, 672, 51.8), ("896", 885, 60.4, 826, 56.0), ("587", 608, 58.7, 513, 54.9),
              ("528", 398, 60.2, 269, 56.7)]
PK_B500_T2 = [("3421", 3424, 28.3, 3783, 29.3), ("2928", 2929, 36.2, 2934, 32.1), ("1740", 1755, 33.7, 2052, 36.5),
              ("1608", 1621, 35.4, 1905, 31.2), ("1509", 1515, 35.8, 1323, 40.5), ("1431", 1476, 33.4, 1162, 38.5),
              ("1373", 1398, 32.6, 1621, 29.9), ("1243", 1265, 30.0, 1482, 27.4), ("1052", 1051, 26.9, 642, 27.5),
              ("897", 892, 36.1, 800, 32.5), ("601", 606, 34.7, 475, 30.9)]
PK_B500_T1 = [("3419", 3416, 3.9, 3797, 4.4), ("2928", 2923, 11.5, 2943, 7.4), ("1740", 1766, 9.1, 2086, 12.7),
              ("1610", 1607, 10.5, 1844, 6.5), ("1509", 1510, 11.1, 1320, 16.6), ("1428", 1454, 9.2, 1184, 14.1),
              ("1374", 1376, 7.9, 1579, 4.7), ("1242", 1251, 5.8, 1379, 3.0), ("1055", 1037, 2.1, 711, 3.0),
              ("897", 898, 11.3, 862, 7.3), ("603", 625, 11.1, 653, 6.9), ("508", 486, 11.1, 439, 6.8),
              ("428", 402, 11.6, 210, 7.6)]

SAMPLES = ["T4", "T3", "T2", "T1"]
PANEL_NAMES = ["250(a)", "250(b)", "500(a)", "500(b)"]

# ---------------------------------------------------------------------------
# styling / layout
# ---------------------------------------------------------------------------
DPI = 200
COLORS = {"T4": "#ff8000", "T3": "#008000", "T2": "#ff0000", "T1": "#0000ff"}
TAG_BLUE = "#0000ff"

# sample tag placement (left edge wn, T) per panel
TAG_POS = {
    "250(a)": [(470, 89.9), (475, 69.9), (493, 41.4), (493, 18.0)],
    "250(b)": [(418, 91.5), (402, 67.1), (411, 38.3), (402, 21.2)],
    "500(a)": [(421, 92.5), (406, 70.5), (409, 41.7), (415, 17.4)],
    "500(b)": [(467, 89.9), (475, 69.9), (417, 40.6), (397, 17.2)],
}

# axes rectangles in figure fractions
AX_W = 1073.4 / 2702
AX_RECTS = {
    "250(a)": [129 / 2702, (2742 - 1228) / 2742, AX_W, 1187 / 2742],
    "250(b)": [1528.5 / 2702, (2742 - 1228) / 2742, AX_W, 1187 / 2742],
    "500(a)": [129 / 2702, (2742 - 2623.5) / 2742, AX_W, 1185.5 / 2742],
    "500(b)": [1528.5 / 2702, (2742 - 2623.5) / 2742, AX_W, 1185.5 / 2742],
}

sns.set_style("white")
plt.rcParams["font.family"] = ["DejaVu Serif"]
plt.rcParams["mathtext.fontset"] = "dejavuserif"

NOTE_KW = dict(fontsize=8.4, fontweight="bold", family=["DejaVu Sans"], color="black",
               ha="center", va="center")
ARROW = dict(arrowstyle="<|-,head_length=0.8,head_width=0.25", color="black", lw=0.7,
             shrinkA=0.5, shrinkB=1.5)


def draw_panel(ax, name, curves, peaks):
    for tag in SAMPLES:
        pts = np.array(curves[tag], dtype=float)
        sns.lineplot(x=pts[:, 0], y=pts[:, 1], ax=ax, color=COLORS[tag], linewidth=2.5,
                     sort=False, estimator=None, legend=False,
                     solid_joinstyle="round", solid_capstyle="round")

    for tag in SAMPLES:
        for label, px, py, tx, ty in peaks[tag]:
            if px is None:
                ax.text(tx, ty, label, **NOTE_KW)
            else:
                ax.annotate(label, xy=(px, py), xytext=(tx, ty), textcoords="data",
                            arrowprops=ARROW, annotation_clip=False, **NOTE_KW)

    for tag, (tx, ty) in zip(SAMPLES, TAG_POS[name]):
        ax.text(tx, ty, tag, ha="left", va="center", fontsize=11.5, fontweight="bold",
                family=["DejaVu Sans"], color=TAG_BLUE)

    ax.set_xlim(4000, 398)
    ax.set_ylim(0, 100)
    ax.set_yticks([])
    ax.xaxis.set_major_locator(MultipleLocator(500))
    ax.xaxis.set_minor_locator(MultipleLocator(250))
    ax.tick_params(axis="x", which="major", direction="in", length=3.4, width=1.0,
                   labelsize=10.5, pad=4.5, colors="black")
    ax.tick_params(axis="x", which="minor", direction="in", length=2.4, width=1.0)
    for side in ["top", "right"]:
        ax.spines[side].set_visible(False)
    for side in ["left", "bottom"]:
        ax.spines[side].set_linewidth(1.1)
        ax.spines[side].set_color("black")

    ax.set_xlabel("Wavenumbers (cm$^{\\mathbf{-1}}$)", fontsize=10.6, fontweight="bold")
    ax.xaxis.label.set_va("center")
    ax.xaxis.set_label_coords(0.5, -0.067)
    ax.set_ylabel("Transmitance (%)", fontsize=8, fontweight="bold")
    ax.yaxis.label.set_va("center")
    ax.yaxis.set_label_coords(-0.083, 0.5)

    ax.text(-0.007, -0.059, name, transform=ax.transAxes, ha="left", va="center",
            fontsize=15, fontweight="bold", family=["DejaVu Sans"], color=TAG_BLUE)


CURVES = {
    "250(a)": dict(zip(SAMPLES, [A250_T4, A250_T3, A250_T2, A250_T1])),
    "250(b)": dict(zip(SAMPLES, [B250_T4, B250_T3, B250_T2, B250_T1])),
    "500(a)": dict(zip(SAMPLES, [A500_T4, A500_T3, A500_T2, A500_T1])),
    "500(b)": dict(zip(SAMPLES, [B500_T4, B500_T3, B500_T2, B500_T1])),
}
PEAKS = {
    "250(a)": dict(zip(SAMPLES, [PK_A250_T4, PK_A250_T3, PK_A250_T2, PK_A250_T1])),
    "250(b)": dict(zip(SAMPLES, [PK_B250_T4, PK_B250_T3, PK_B250_T2, PK_B250_T1])),
    "500(a)": dict(zip(SAMPLES, [PK_A500_T4, PK_A500_T3, PK_A500_T2, PK_A500_T1])),
    "500(b)": dict(zip(SAMPLES, [PK_B500_T4, PK_B500_T3, PK_B500_T2, PK_B500_T1])),
}

fig = plt.figure(figsize=(2702 / DPI, 2742 / DPI), dpi=DPI)
fig.patch.set_facecolor("white")

for name in PANEL_NAMES:
    ax = fig.add_axes(AX_RECTS[name])
    draw_panel(ax, name, CURVES[name], PEAKS[name])

fig.savefig("out.png", dpi=DPI, facecolor="white")
plt.close(fig)
